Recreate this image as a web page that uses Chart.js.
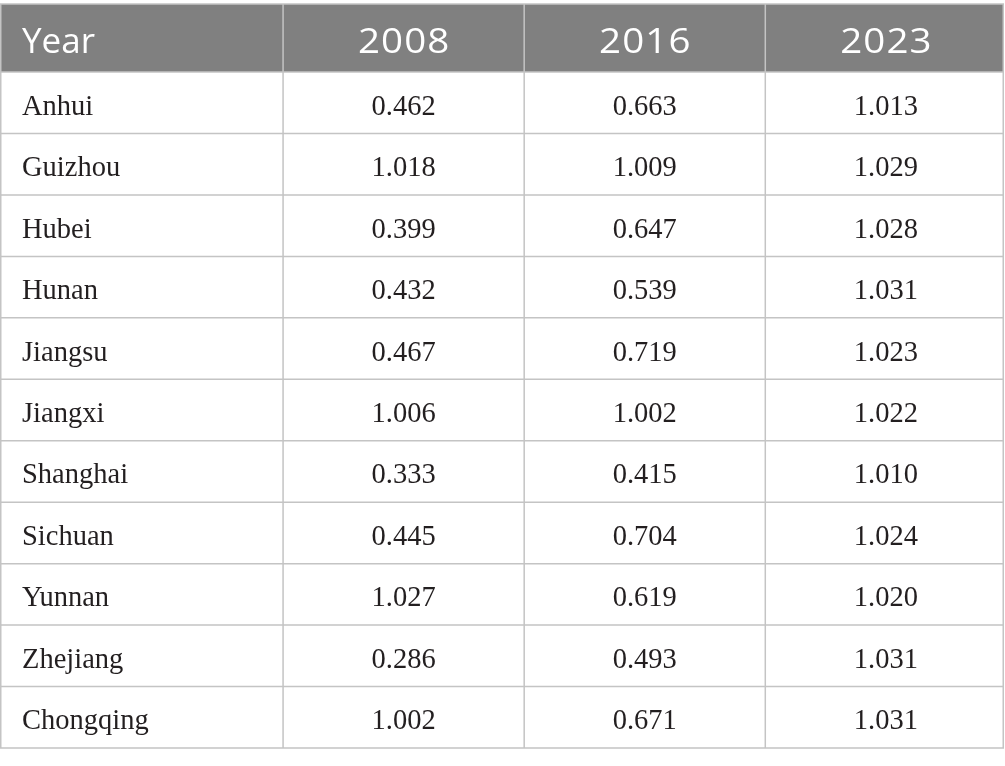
<!DOCTYPE html>
<html>
<head>
<meta charset="utf-8">
<script src="https://cdn.jsdelivr.net/npm/chart.js@4.4.1/dist/chart.umd.min.js"></script>
<style>
  html, body { margin: 0; padding: 0; background: #fff; }
  .table-area { width: 1005px; height: 766px; }
</style>
</head>
<body>
<div class="table-area"><canvas id="table"></canvas></div>
<script>
// table contents
const firstHeader = 'Year';
const years = ['2008', '2016', '2023'];
const provinces = ['Anhui', 'Guizhou', 'Hubei', 'Hunan', 'Jiangsu', 'Jiangxi',
  'Shanghai', 'Sichuan', 'Yunnan', 'Zhejiang', 'Chongqing'];
const values2008 = [0.462, 1.018, 0.399, 0.432, 0.467, 1.006, 0.333, 0.445, 1.027, 0.286, 1.002];
const values2016 = [0.663, 1.009, 0.647, 0.539, 0.719, 1.002, 0.415, 0.704, 0.619, 0.493, 0.671];
const values2023 = [1.013, 1.029, 1.028, 1.031, 1.023, 1.022, 1.010, 1.024, 1.020, 1.031, 1.031];

const yearValues = [values2008, values2016, values2023];

// column 0 = names, columns 1..3 = years; row 1..n = provinces
const datasets = [{
  label: firstHeader,
  data: provinces.map((p, i) => ({ x: 0, y: i + 1 })),
  texts: provinces
}].concat(years.map((year, c) => ({
  label: year,
  data: yearValues[c].map((v, i) => ({ x: c + 1, y: i + 1 })),
  texts: yearValues[c].map((v) => v.toFixed(3))
})));

const tablePlugin = {
  id: 'tableCells',
  beforeDatasetsDraw(chart) {
    const { ctx, chartArea } = chart;
    const x = chart.scales.x;
    const y = chart.scales.y;
    const headerBottom = y.getPixelForValue(0.5);

    ctx.save();
    // header band
    ctx.fillStyle = '#808080';
    ctx.fillRect(chartArea.left, chartArea.top, chartArea.right - chartArea.left, headerBottom - chartArea.top);

    ctx.lineWidth = 1.5;
    // horizontal rules
    ctx.strokeStyle = '#c4c4c4';
    ctx.beginPath();
    ctx.moveTo(chartArea.left, chartArea.top);
    ctx.lineTo(chartArea.right, chartArea.top);
    for (let r = 0; r <= provinces.length; r++) {
      const py = y.getPixelForValue(r + 0.5);
      ctx.moveTo(chartArea.left, py);
      ctx.lineTo(chartArea.right, py);
    }
    ctx.stroke();

    // vertical rules
    const edges = [chartArea.left + 0.75, chartArea.right - 0.75];
    for (let c = 0; c < years.length; c++) edges.push(x.getPixelForValue(c + 0.5));
    ctx.beginPath();
    edges.forEach((px) => {
      ctx.moveTo(px, chartArea.top);
      ctx.lineTo(px, chartArea.bottom);
    });
    ctx.stroke();
    ctx.restore();
  },
  afterDatasetsDraw(chart) {
    const { ctx, chartArea } = chart;
    const x = chart.scales.x;
    const y = chart.scales.y;
    const headerBase = y.getPixelForValue(0.5) - 19;

    ctx.save();
    ctx.textBaseline = 'alphabetic';

    // header text
    ctx.fillStyle = '#ffffff';
    ctx.font = '35px "Open Sans"';
    ctx.textAlign = 'left';
    ctx.fillText(firstHeader, chartArea.left + 22, headerBase);
    // year digits in the source are wider than Open Sans, stretch them a bit
    ctx.textAlign = 'center';
    years.forEach((year, c) => {
      ctx.save();
      ctx.translate(x.getPixelForValue(c + 1), headerBase);
      ctx.scale(1.1, 1);
      ctx.letterSpacing = '1px';
      ctx.fillText(year, 0.5, 0);
      ctx.restore();
    });

    // body text at the dataset point positions
    ctx.fillStyle = '#231f20';
    ctx.font = '28.5px "Liberation Serif"';
    chart.data.datasets.forEach((ds, d) => {
      const meta = chart.getDatasetMeta(d);
      ctx.textAlign = d === 0 ? 'left' : 'center';
      meta.data.forEach((pt, i) => {
        const px = d === 0 ? chartArea.left + 22 : pt.x;
        ctx.fillText(ds.texts[i], px, pt.y + 12);
      });
    });
    ctx.restore();
  }
};

new Chart(document.getElementById('table'), {
  type: 'scatter',
  data: { datasets: datasets },
  options: {
    responsive: true,
    maintainAspectRatio: false,
    animation: false,
    events: [],
    layout: { padding: { top: 4, bottom: 18, left: 0, right: 1 } },
    elements: { point: { radius: 0, hoverRadius: 0 } },
    plugins: { legend: { display: false }, tooltip: { enabled: false } },
    scales: {
      x: { type: 'linear', display: false, min: -0.674, max: 3.49 },
      y: { type: 'linear', display: false, reverse: true, min: -0.607, max: 11.5 }
    }
  },
  plugins: [tablePlugin]
});
</script>
</body>
</html>
